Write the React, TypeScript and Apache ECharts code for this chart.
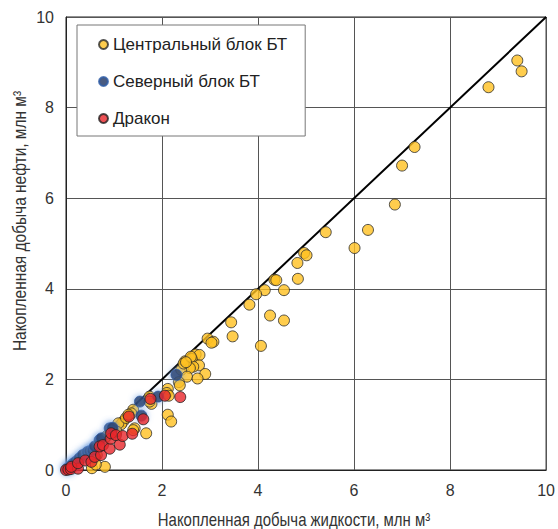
import React, { useEffect, useRef } from "react";
import * as echarts from "echarts";

const seriesNames = ["Центральный блок БТ", "Северный блок БТ", "Дракон"];
const xTitle = "Накопленная добыча жидкости, млн м³";
const yTitle = "Накопленная добыча нефти, млн м³";

const central: number[][] = [
  [9.40, 9.04], [9.49, 8.80], [8.80, 8.45], [7.26, 7.13], [7.00, 6.72], [6.85, 5.86],
  [5.41, 5.25], [6.29, 5.30], [6.01, 4.90], [4.96, 4.79], [5.01, 4.74], [4.82, 4.57],
  [4.83, 4.22], [4.34, 4.20], [4.38, 4.19], [4.14, 3.97], [4.54, 3.97], [3.96, 3.88],
  [3.82, 3.65], [4.25, 3.41], [4.54, 3.30], [3.44, 3.26], [3.47, 2.95], [2.95, 2.90],
  [3.07, 2.83], [3.03, 2.81], [4.06, 2.74], [2.70, 2.55], [2.78, 2.54], [2.48, 2.40],
  [2.62, 2.45], [2.77, 2.31], [2.65, 2.28], [2.58, 2.25], [2.40, 2.21], [2.90, 2.12],
  [2.52, 2.06], [2.74, 2.02], [2.35, 1.94], [2.37, 1.87], [2.12, 1.79], [2.10, 1.70],
  [2.14, 1.64], [1.74, 1.62], [1.78, 1.46], [1.74, 1.51], [2.12, 1.22], [2.19, 1.07],
  [1.40, 1.33], [1.36, 1.25], [1.19, 1.07], [1.15, 1.01], [1.09, 1.03], [1.43, 0.92],
  [1.40, 0.88], [1.67, 0.81], [1.05, 0.85], [0.95, 0.88], [0.64, 0.33], [0.57, 0.29],
  [0.81, 0.07], [0.54, 0.04], [0.62, 0.12], [0.30, 0.25], [0.20, 0.15], [0.40, 0.35],
  [0.85, 0.75], [0.80, 0.70], [1.25, 1.15], [1.30, 1.22], [2.45, 2.35], [2.60, 2.50],
  [2.50, 2.38],
];

const northern: number[][] = [
  [0.02, 0.02], [0.05, 0.05], [0.10, 0.09], [0.15, 0.14], [0.20, 0.18], [0.28, 0.26],
  [0.35, 0.33], [0.45, 0.40], [0.50, 0.42], [0.56, 0.44], [0.60, 0.52], [0.70, 0.66],
  [0.74, 0.70], [0.91, 0.92], [0.97, 0.93], [1.54, 1.51], [1.57, 1.20], [1.92, 1.62],
  [2.30, 2.10],
];

const drakon: number[][] = [
  [0.00, 0.00], [0.05, 0.01], [0.10, 0.02], [0.25, 0.03], [0.11, 0.07], [0.25, 0.15],
  [0.40, 0.21], [0.53, 0.18], [0.60, 0.29], [0.73, 0.33], [0.70, 0.52], [0.77, 0.55],
  [0.91, 0.47], [0.93, 0.69], [1.12, 0.56], [0.94, 0.81], [1.04, 0.77], [1.18, 0.75],
  [1.38, 0.80], [1.31, 1.18], [1.61, 1.12], [1.76, 1.57], [2.06, 1.64], [2.38, 1.61],
];

const diagonal: number[][] = [
  [0, 0],
  [10, 10],
];

export default function App() {
  const ref = useRef<HTMLDivElement>(null);
  useEffect(() => {
    if (!ref.current) return;
    const chart = echarts.init(ref.current, null, { renderer: "svg" });
    const font = "Liberation Sans, Arial, sans-serif";
    chart.setOption({
      animation: false,
      backgroundColor: "#ffffff",
      grid: {
        left: 66,
        right: 10,
        top: 17,
        bottom: 59,
        show: true,
        borderColor: "#222",
        borderWidth: 1,
      },
      xAxis: {
        type: "value",
        min: 0,
        max: 10,
        interval: 2,
        axisLine: { show: true, lineStyle: { color: "#222", width: 1 } },
        axisTick: { show: false },
        splitLine: { show: true, lineStyle: { color: "#555", width: 1 } },
        axisLabel: { color: "#333", fontSize: 16, fontFamily: font, margin: 12 },
      },
      yAxis: {
        type: "value",
        min: 0,
        max: 10,
        interval: 2,
        axisLine: { show: true, lineStyle: { color: "#222", width: 1 } },
        axisTick: { show: false },
        splitLine: { show: true, lineStyle: { color: "#555", width: 1 } },
        axisLabel: { color: "#333", fontSize: 16, fontFamily: font, margin: 12 },
      },
      legend: {
        orient: "vertical",
        left: 77,
        top: 25,
        data: seriesNames,
        backgroundColor: "#fff",
        borderColor: "#777",
        borderWidth: 1,
        borderRadius: 0,
        padding: [11, 18, 9, 21],
        itemGap: 20,
        itemWidth: 9,
        itemHeight: 9,
        icon: "circle",
        textStyle: { color: "#222", fontSize: 17, lineHeight: 17, fontFamily: font },
      },
      graphic: [
        {
          type: "text",
          x: 294,
          y: 520,
          scaleX: 0.83,
          style: {
            text: xTitle,
            fill: "#333",
            fontSize: 18,
            fontFamily: font,
            textAlign: "center",
            textVerticalAlign: "middle",
          },
        },
        {
          type: "text",
          x: 20,
          y: 221,
          rotation: Math.PI / 2,
          scaleX: 0.86,
          style: {
            text: yTitle,
            fill: "#333",
            fontSize: 18,
            fontFamily: font,
            textAlign: "center",
            textVerticalAlign: "middle",
          },
        },
      ],
      series: [
        {
          type: "line",
          data: diagonal,
          symbol: "none",
          lineStyle: { color: "#000", width: 2 },
          z: 1,
          silent: true,
        },
        {
          name: seriesNames[0],
          type: "scatter",
          data: central,
          symbolSize: 11,
          itemStyle: { color: "#ffc020", borderColor: "#2a2a2a", borderWidth: 1 },
          z: 2,
        },
        {
          name: seriesNames[1],
          type: "scatter",
          data: northern,
          symbolSize: 11,
          itemStyle: {
            color: "#1c3262",
            borderColor: "#2f5ea8",
            borderWidth: 1,
            shadowBlur: 6,
            shadowColor: "#6f9fe0",
          },
          z: 3,
        },
        {
          name: seriesNames[2],
          type: "scatter",
          data: drakon,
          symbolSize: 11,
          itemStyle: { color: "#e8262a", borderColor: "#222", borderWidth: 1 },
          z: 4,
        },
      ],
    });
    return () => chart.dispose();
  }, []);
  return (
    <div
      ref={ref}
      style={{ width: 558, height: 529, position: "absolute", left: 0, top: 0 }}
    />
  );
}
